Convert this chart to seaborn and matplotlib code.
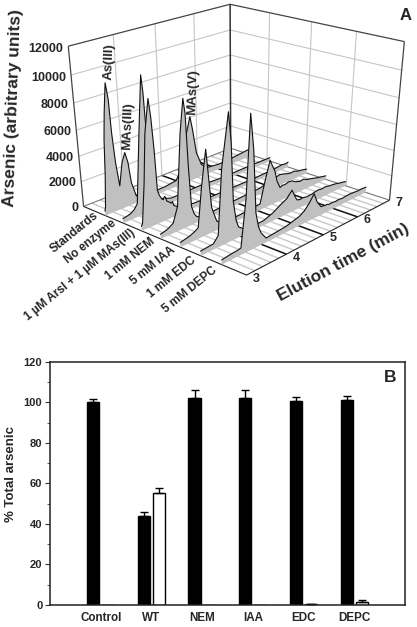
import numpy as np
import pandas as pd
import seaborn as sns
import matplotlib
matplotlib.use("Agg")
import matplotlib.pyplot as plt
from matplotlib.ticker import MultipleLocator
from mpl_toolkits.mplot3d import proj3d
from mpl_toolkits.mplot3d.art3d import Poly3DCollection

W, H = 417, 627

# panel A
sample_labels = ["Standards", "No enzyme", "1 µM ArsI + 1 µM MAs(III)", "1 mM NEM",
                 "5 mM IAA", "1 mM EDC", "5 mM DEPC"]
z_ticks = [0, 2000, 4000, 6000, 8000, 10000, 12000]
time_ticks = [3, 4, 5, 6, 7]

t_standards = [3.0, 3.02, 3.07, 3.11, 3.16, 3.23, 3.27, 3.29, 3.33, 3.39, 3.48, 3.56, 3.62, 3.67, 3.77,
               4.0, 4.5, 4.8, 4.95, 5.05, 5.12, 5.22, 5.28, 5.37, 5.5, 5.64, 6.0, 6.4, 6.85, 7.0]
z_standards = [360, 650, 3000, 5790, 7690, 9750, 8540, 6090, 3770, 1870, 3590, 4270, 3420, 1770, 560,
               350, 360, 500, 1300, 3000, 4070, 5240, 4160, 2140, 1000, 550, 420, 500, 640, 650]

t_noenz = [3.0, 3.1, 3.19, 3.28, 3.36, 3.49, 3.61, 3.64, 3.67, 3.72, 3.85, 4.2, 4.5, 5.0, 5.5, 6.0, 6.5, 7.0]
z_noenz = [360, 420, 500, 700, 1070, 6060, 10350, 9060, 5880, 3000, 800, 380, 400, 420, 320, 320, 330, 300]

t_arsi = [3.0, 3.03, 3.12, 3.2, 3.31, 3.35, 3.39, 3.42, 3.46, 3.49, 3.52, 3.55, 3.58, 3.6, 3.63, 3.66, 3.7,
          3.73, 3.77, 3.8, 3.85, 3.92, 4.3, 4.84, 5.4, 6.07, 6.6, 6.8, 6.9, 7.0]
z_arsi = [360, 540, 3500, 7070, 9410, 8080, 5650, 2600, 2150, 1970, 1780, 1700, 1900, 1850, 1500, 1400, 1300,
          1180, 1250, 900, 780, 590, 400, 320, 300, 300, 360, 430, 380, 420]

t_nem = [3.0, 3.07, 3.15, 3.23, 3.31, 3.43, 3.55, 3.64, 3.68, 3.72, 3.77, 3.83, 3.89, 3.97, 4.3, 4.76, 5.2,
         5.59, 5.9, 6.17, 6.3, 6.4, 6.5, 6.6, 6.7, 6.8, 6.9, 7.0]
z_nem = [360, 420, 490, 620, 780, 1910, 7180, 9520, 8440, 4560, 1440, 800, 490, 350, 330, 400, 450,
         500, 720, 900, 800, 690, 620, 660, 530, 480, 420, 340]

t_iaa = [3.0, 3.1, 3.23, 3.35, 3.44, 3.54, 3.66, 3.71, 3.78, 3.9, 4.02, 4.2, 4.51, 4.8, 5.05, 5.18, 5.31,
         5.38, 5.45, 5.52, 5.61, 5.68, 5.75, 5.85, 5.96, 6.05, 6.2, 6.3, 6.4, 6.5, 6.6, 6.75, 6.85, 7.0]
z_iaa = [360, 430, 520, 680, 860, 3760, 6410, 4540, 1940, 730, 350, 340, 380, 420, 500, 2180, 3650,
         3100, 2630, 1700, 1090, 1190, 1150, 1240, 1190, 1000, 850, 900, 740, 670, 590, 460, 400, 300]

t_edc = [3.0, 3.15, 3.31, 3.43, 3.53, 3.7, 3.76, 3.81, 3.88, 3.94, 4.11, 4.35, 4.6, 4.85, 5.05, 5.23, 5.37,
         5.45, 5.52, 5.6, 5.7, 5.8, 5.97, 6.05, 6.15, 6.25, 6.36, 6.5, 6.6, 6.7, 6.8, 6.9, 7.0]
z_edc = [360, 400, 440, 900, 5700, 9420, 7310, 2900, 1400, 820, 400, 360, 380, 650, 1000, 1270, 1750,
         1200, 770, 690, 720, 640, 670, 730, 760, 700, 740, 650, 620, 560, 480, 430, 350]

t_depc = [3.0, 3.14, 3.27, 3.38, 3.47, 3.59, 3.69, 3.77, 3.84, 3.91, 3.98, 4.11, 4.35, 4.5, 4.64, 4.82, 5.0, 5.14,
          5.27, 5.4, 5.5, 5.62, 5.7, 5.75, 5.8, 5.85, 5.95, 6.05, 6.15, 6.27, 6.35, 6.5, 6.6, 6.75, 6.85, 7.0]
z_depc = [360, 410, 460, 480, 530, 3950, 9780, 7250, 2630, 1500, 920, 340, 400, 440, 480, 610, 750, 1000,
          1430, 1990, 1200, 670, 640, 600, 620, 540, 560, 510, 540, 490, 530, 540, 510, 470, 480, 440]

traces = [(t_standards, z_standards), (t_noenz, z_noenz), (t_arsi, z_arsi), (t_nem, z_nem),
          (t_iaa, z_iaa), (t_edc, z_edc), (t_depc, z_depc)]

# panel B
groups = ["Control", "WT", "NEM", "IAA", "EDC", "DEPC"]
black_mean = [100, 44, 102, 102, 100.5, 101]
black_err = [1.5, 2, 4, 4, 2.3, 2.3]
white_mean = [0, 55.3, 0, 0, 0.3, 1.5]
white_err = [0, 2.2, 0, 0, 0.1, 1]

sns.set_style("ticks")
plt.rcParams["font.family"] = ["Liberation Sans", "DejaVu Sans"]
plt.rcParams["font.weight"] = "bold"


def px(x, y):
    return x / W, 1 - y / H


fig = plt.figure(figsize=(W / 100, H / 100), dpi=100)

# ---- panel A: 3D waterfall, camera fitted to the corners of the box
ax3 = fig.add_axes([0, 0, 1, 1], projection="3d", computed_zorder=False)
ax3.view_init(elev=25.813, azim=-137.9)
ax3.set_proj_type("persp", focal_length=0.507)
ax3.set_box_aspect((3.204, 3.205, 3.182))
ax3.set_axis_off()

# anisotropic screen scale, so stop the axes forcing itself square
x0, x1 = ax3.viewLim.intervalx
y0, y1 = ax3.viewLim.intervaly
sx, cx, sy, cy = 2056.18, 237.55, 1613.58, 127.32
ax3.set_position([(cx + x0 * sx) / W, 1 - (cy - y0 * sy) / H, (x1 - x0) * sx / W, (y1 - y0) * sy / H])
ax3.apply_aspect = lambda position=None: None

tmin, tmax = 3, 7
yback, yfront = 1.26, -7.14
zmax = 12000


def line3(xs, ys, zs, color, lw, z=1):
    ax3.plot(xs, ys, zs, color=color, lw=lw, zorder=z, solid_capstyle="butt")


# walls
for zt in z_ticks[1:-1]:
    line3([tmin, tmax, tmax], [yback, yback, yfront], [zt, zt, zt], "#c6c6c6", 0.8)
for t in time_ticks[1:-1]:
    line3([t, t], [yback, yback], [0, zmax], "#c6c6c6", 0.8)
for y in np.linspace(yback, yfront, 5)[1:-1]:
    line3([tmax, tmax], [y, y], [0, zmax], "#c6c6c6", 0.8)

# floor stripes
for t in np.arange(3.2, 7.0, 0.2):
    if abs(t - round(t)) > 0.01:
        line3([t, t], [yback, yfront], [0, 0], "#c8c8c8", 1.0)
for t in time_ticks[1:-1]:
    line3([t, t], [yback, yfront], [0, 0], "#111111", 1.1, z=2)

# box
line3([tmin, tmax, tmax], [yback, yback, yfront], [0, 0, 0], "#777777", 0.8, z=2)
line3([tmin, tmin, tmax], [yback, yfront, yfront], [0, 0, 0], "#222222", 0.8, z=2)
line3([tmin, tmax, tmax], [yback, yback, yfront], [zmax, zmax, zmax], "#444444", 0.9, z=2)
line3([tmin, tmin], [yback, yback], [0, zmax], "#444444", 0.9, z=2)
line3([tmax, tmax], [yback, yback], [0, zmax], "#333333", 1.1, z=2)
line3([tmax, tmax], [yfront, yfront], [0, zmax], "#444444", 0.9, z=2)

# traces, back to front
for i, (t_vals, z_vals) in enumerate(traces):
    y = -i
    verts = [(a, y, b) for a, b in zip(t_vals, z_vals)]
    verts += [(t_vals[-1], y, 0), (t_vals[0], y, 0)]
    ax3.add_collection3d(Poly3DCollection([verts], facecolor="#c0c0c0", edgecolor="none", zorder=10 + 2 * i))
    ax3.plot(t_vals, [y] * len(t_vals), z_vals, color="#111111", lw=0.8, zorder=11 + 2 * i)

ax3.set_xlim(tmin, tmax)
ax3.set_ylim(yfront, yback)
ax3.set_zlim(0, zmax)


def label3(t, y, z, s, **kw):
    # Text3D ignores rotation, so place 2D text at the projected point
    a, b, _ = proj3d.proj_transform(t, y, z, ax3.get_proj())
    ax3.text2D(a, b, s, transform=ax3.transData, zorder=50, **kw)


for zt in z_ticks:
    label3(tmin, yback + 0.3, zt - 300, str(zt), ha="right", va="center", fontsize=9)
for t in time_ticks:
    label3(t, yfront - 0.45, 0, str(t), ha="center", va="center", fontsize=9)
for i, lab in enumerate(sample_labels):
    label3(2.95 - 0.02 * i, -(1.07 * i - 0.35), 0, lab, ha="right", va="center", rotation=39,
           rotation_mode="anchor", fontsize=8.6)

fig.text(*px(13, 108), "Arsenic (arbitrary units)", rotation=88, ha="center", va="center", fontsize=12.5)
fig.text(*px(343, 262), "Elution time (min)", rotation=28.3, ha="center", va="center", fontsize=12.5)
fig.text(*px(109, 62), "As(III)", rotation=88, ha="center", va="center", fontsize=9.5)
fig.text(*px(128, 126), "MAs(III)", rotation=88, ha="center", va="center", fontsize=9.5)
fig.text(*px(193, 92), "MAs(V)", rotation=88, ha="center", va="center", fontsize=9.5)
fig.text(*px(406, 16), "A", ha="center", va="center", fontsize=12)

# ---- panel B
ax = fig.add_axes([50 / W, (H - 605) / H, 355 / W, 243.3 / H])
df = pd.DataFrame({
    "group": groups * 2,
    "value": black_mean + white_mean,
    "err": black_err + white_err,
    "kind": ["black"] * 6 + ["white"] * 6,
})
sns.barplot(data=df, x="group", y="value", hue="kind", order=groups, hue_order=["black", "white"],
            palette={"black": "black", "white": "white"}, width=0.6, gap=0.2, errorbar=None,
            edgecolor="black", linewidth=1, legend=False, ax=ax)
for container, errs in zip(ax.containers, (black_err, white_err)):
    for bar, e in zip(container, errs):
        xc = bar.get_x() + bar.get_width() / 2
        if e > 0:
            ax.errorbar(xc, bar.get_height(), yerr=[[0], [e]], color="black", lw=1, capsize=2.9, capthick=1)

ax.set_xlim(-1, 6)
ax.set_ylim(0, 120)
ax.yaxis.set_major_locator(MultipleLocator(20))
ax.yaxis.set_minor_locator(MultipleLocator(10))
ax.tick_params(axis="y", which="major", labelsize=8, length=3.5, width=0.8, color="#333333", pad=2)
ax.tick_params(axis="y", which="minor", length=2, width=0.7, color="#555555")
ax.tick_params(axis="x", length=0, labelsize=8.4, pad=5)
ax.set_xlabel("")
ax.set_ylabel("")
for lab in ax.get_xticklabels() + ax.get_yticklabels():
    lab.set_fontweight("bold")
for sp in ax.spines.values():
    sp.set_visible(True)
    sp.set_linewidth(1.1)
    sp.set_color("#222222")

fig.text(*px(11, 474), "% Total arsenic", rotation=90, ha="center", va="center", fontsize=9.5)
fig.text(*px(390, 378), "B", ha="center", va="center", fontsize=12.5)

fig.savefig("out.png", dpi=100, facecolor="white")
